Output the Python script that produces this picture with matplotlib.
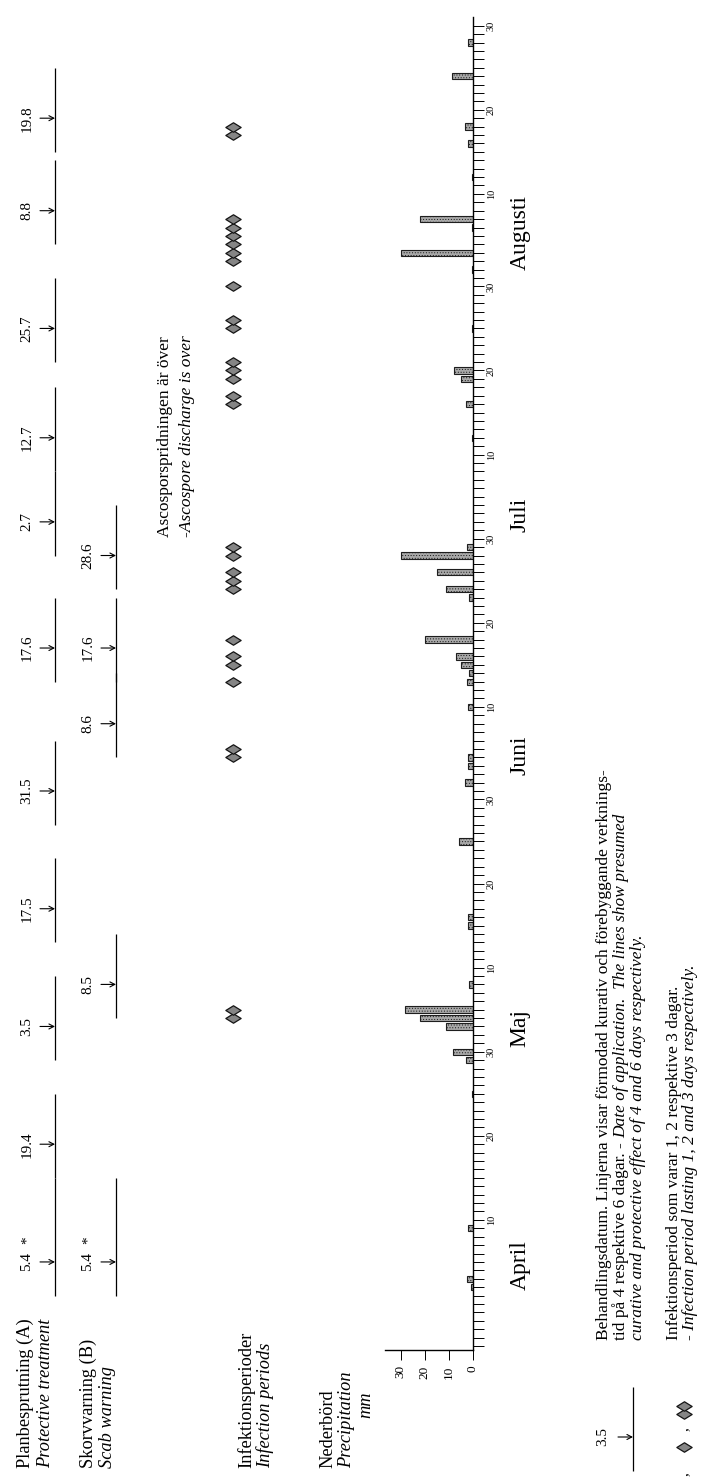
import numpy as np
import matplotlib
matplotlib.use('Agg')
import matplotlib.pyplot as plt
from matplotlib.path import Path

plt.rcParams['font.family'] = ['Liberation Serif', 'DejaVu Serif']
plt.rcParams['hatch.linewidth'] = 0.4

# day numbers: 1 = 1 April
rain_day = [2, 3, 9, 25, 29, 30, 33, 34, 35, 38, 45, 46, 55, 62, 64, 65,
            71, 74, 75, 76, 77, 79, 84, 85, 87, 89, 90, 103, 107, 110, 111,
            116, 123, 125, 128, 129, 134, 138, 140, 146, 150]
rain_mm = [1, 2.5, 2, 0.5, 3, 8.5, 11, 22, 28, 1.5, 2, 2, 6, 3.5, 2, 2,
           2, 2.3, 1.5, 5, 7, 20, 1.5, 11, 15, 30, 2.3, 0.5, 3, 4.8, 8,
           0.5, 0.5, 30, 0.5, 22, 0.5, 2, 3.5, 8.6, 2]

infection_day = [34, 35, 65, 66, 74, 76, 77, 79, 85, 86, 87, 89, 90,
                 107, 108, 110, 111, 112, 116, 117, 121,
                 124, 125, 126, 127, 128, 129, 139, 140]

# treatments: date (day number), label, protective days after
a_day = [5, 19, 33, 47, 61, 78, 93, 103, 116, 130, 141]
a_label = ['5.4 *', '19.4', '3.5', '17.5', '31.5', '17.6', '2.7', '12.7', '25.7', '8.8', '19.8']
a_after = [10, 6, 6, 6, 6, 6, 6, 6, 6, 6, 6]
b_day = [5, 38, 69, 78, 89]
b_label = ['5.4 *', '8.5', '8.6', '17.6', '28.6']
b_after = [10, 6, 6, 6, 6]
curative = 4

months = ['April', 'Maj', 'Juni', 'Juli', 'Augusti']
month_start = [1, 31, 62, 92, 123]
month_days = [30, 31, 30, 31, 31]
month_shift = [0.7, -0.4, 0.9, -0.2, -0.1]   # where each name begins, relative to the 1st
axis_first, axis_last = -5, 152

# page geometry (pixels), time runs upwards
W, H = 701, 1479
ROW0, PX_DAY = 1304, 8.41


def day_at(px):
    return (ROW0 - px) / PX_DAY


fig = plt.figure(figsize=(W / 100, H / 100), dpi=100)
ax = fig.add_axes([0, 0, 1, 1])
ax.set_xlim(0, W)
ax.set_ylim(day_at(H), day_at(0))
ax.axis('off')

# precipitation panel
p_left, p_right, p_bottom, p_top = 385, 473, 1350, 17
axp = fig.add_axes([p_left / W, (H - p_bottom) / H, (p_right - p_left) / W, (p_bottom - p_top) / H])
axp.set_ylim(day_at(p_bottom), day_at(p_top))
axp.set_xlim(36.5, 0)
axp.patch.set_alpha(0)
axp.barh(rain_day, rain_mm, height=0.75, color='#a8a8a8', edgecolor='#1e1e1e',
         linewidth=0.8, hatch='......')
for s in ('left', 'top'):
    axp.spines[s].set_visible(False)
for s in ('right', 'bottom'):
    axp.spines[s].set_linewidth(1.0)
axp.yaxis.tick_right()
ticks = np.arange(axis_first, axis_last + 1)
labels = [''] * len(ticks)
for ms, nd in zip(month_start, month_days):
    for d in (10, 20, 30):
        if d <= nd:
            labels[list(ticks).index(ms + d - 1)] = str(d)
axp.set_yticks(ticks)
axp.set_yticklabels(labels)
axp.tick_params(axis='y', direction='out', length=8, width=0.7, labelsize=7.5, pad=2, labelrotation=90)
for t in axp.get_yticklabels():
    t.set_va('center')
axp.set_xticks([0, 10, 20, 30])
axp.tick_params(axis='x', direction='out', length=7, width=0.7, labelsize=9.5, pad=4, labelrotation=90)

for name, ms, sh in zip(months, month_start, month_shift):
    ax.text(520, ms + sh, name, rotation=90, ha='center', va='bottom', fontsize=17)


def treatments(days, labs, after, x_line, x_text):
    for d, lab, af in zip(days, labs, after):
        ax.vlines(x_line, d - curative, d + af, color='k', lw=0.9)
        ax.annotate('', xy=(x_line, d), xytext=(x_line - 15, d),
                    arrowprops=dict(arrowstyle='->,head_length=0.35,head_width=0.18',
                                    lw=0.8, color='k', shrinkA=0, shrinkB=0))
        num = lab.split()[0]
        ax.text(x_text, d, num, rotation=90, ha='center', va='center', fontsize=11)
        if lab.endswith('*'):
            ax.annotate('*', xy=(x_text, d), xytext=(0, 16), textcoords='offset points',
                        rotation=90, ha='center', va='center', fontsize=11)


treatments(a_day, a_label, a_after, 55, 27)
treatments(b_day, b_label, b_after, 116, 88)

# infection periods
diamond = Path([(-1, 0), (0, 0.62), (1, 0), (0, -0.62), (-1, 0)],
               [Path.MOVETO, Path.LINETO, Path.LINETO, Path.LINETO, Path.CLOSEPOLY])
dkw = dict(ls='none', marker=diamond, ms=11, mfc='#858585', mec='#141414', mew=0.9)
ax.plot([233] * len(infection_day), infection_day, **dkw)

ax.text(165, day_at(537), 'Ascosporspridningen är över', rotation=90,
        ha='center', va='bottom', fontsize=12.5)
ax.text(187, day_at(537), '-Ascospore discharge is over', rotation=90,
        ha='center', va='bottom', fontsize=12.5, style='italic')

# row titles
base = day_at(1468)
rows = [(25, 'Planbesprutning (A)', 'normal'), (46, 'Protective treatment', 'italic'),
        (88, 'Skorvvarning (B)', 'normal'), (107, 'Scab warning', 'italic'),
        (246, 'Infektionsperioder', 'normal'), (265, 'Infection periods', 'italic'),
        (328, 'Nederbörd', 'normal'), (347, 'Precipitation', 'italic')]
for x, txt, st in rows:
    ax.text(x, base, txt, rotation=90, ha='center', va='bottom', fontsize=13.2, style=st)
ax.text(366, day_at(1392), 'mm', rotation=90, ha='center', va='top', fontsize=13.2, style='italic')

# legend
leg = day_at(1437)
ax.text(603, leg, '3.5', rotation=90, ha='center', va='center', fontsize=11)
ax.vlines(633, leg - curative, leg + 6, color='k', lw=0.9)
ax.annotate('', xy=(633, leg), xytext=(618, leg),
            arrowprops=dict(arrowstyle='->,head_length=0.35,head_width=0.18',
                            lw=0.8, color='k', shrinkA=0, shrinkB=0))
ax.plot([684], [day_at(1447)], **dkw)
ax.plot([684, 684], [day_at(1414), day_at(1414) + 1], **dkw)
ax.text(684, day_at(1429), ',', rotation=90, ha='center', va='center', fontsize=11)
ax.text(684, day_at(1474), ',', rotation=90, ha='center', va='center', fontsize=11)

tb = day_at(1340)
fs = 12.5
ax.text(604, tb, 'Behandlingsdatum. Linjerna visar förmodad kurativ och förebyggande verknings-',
        rotation=90, ha='center', va='bottom', fontsize=fs)
t2 = ax.text(621, tb, 'tid på 4 respektive 6 dagar. - ', rotation=90, ha='center', va='bottom', fontsize=fs)
ax.annotate('Date of application.  The lines show presumed', xy=(0.5, 1.0), xycoords=t2,
            rotation=90, ha='center', va='bottom', fontsize=fs, style='italic')
ax.text(638, tb, 'curative and protective effect of 4 and 6 days respectively.',
        rotation=90, ha='center', va='bottom', fontsize=fs, style='italic')
ax.text(674, tb, 'Infektionsperiod som varar 1, 2 respektive 3 dagar.',
        rotation=90, ha='center', va='bottom', fontsize=fs)
ax.text(690, tb, '- Infection period lasting 1, 2 and 3 days respectively.',
        rotation=90, ha='center', va='bottom', fontsize=fs, style='italic')

fig.savefig('out.png', dpi=100)
